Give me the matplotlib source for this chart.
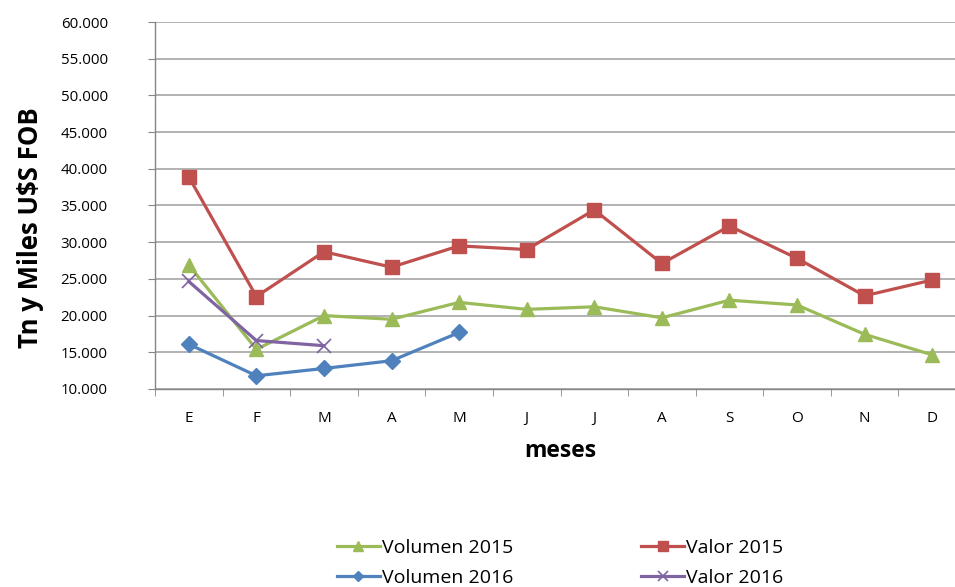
import matplotlib.pyplot as plt
from matplotlib.ticker import FuncFormatter, FixedLocator

meses = ["E", "F", "M", "A", "M", "J", "J", "A", "S", "O", "N", "D"]
volumen_2015 = [26900, 15400, 20000, 19500, 21800, 20850, 21200, 19700, 22100, 21450, 17450, 14650]
valor_2015 = [38900, 22600, 28700, 26600, 29500, 29000, 34400, 27100, 32200, 27800, 22700, 24850]
volumen_2016 = [16100, 11800, 12800, 13850, 17700]
valor_2016 = [24650, 16600, 15900]

plt.rcParams['font.family'] = ['Open Sans', 'DejaVu Sans']

W, H = 955, 587
fig = plt.figure(figsize=(W / 100, H / 100), dpi=100)
ax = fig.add_axes([155 / W, (H - 389) / H, 811 / W, 367 / H])

x_all = list(range(len(meses)))
grid_c = "#A6A6A6"

l_vol15, = ax.plot(x_all, volumen_2015, color="#9BBB59", lw=2.3, marker="^", ms=10,
                   label="Volumen 2015", zorder=3)
l_val15, = ax.plot(x_all, valor_2015, color="#C0504D", lw=2.3, marker="s", ms=10,
                   label="Valor 2015", zorder=3)
l_vol16, = ax.plot(x_all[:len(volumen_2016)], volumen_2016, color="#4F81BD", lw=2.3,
                   marker="D", ms=8, label="Volumen 2016", zorder=4)
l_val16, = ax.plot(x_all[:len(valor_2016)], valor_2016, color="#8064A2", lw=2.3,
                   marker="x", ms=10, mew=1.2, label="Valor 2016", zorder=5)

ax.set_xlim(-0.5, len(meses) - 0.5)
ax.set_ylim(10000, 60000)
ax.set_yticks(range(10000, 60001, 5000))
ax.yaxis.set_major_formatter(FuncFormatter(lambda v, p: f"{int(v):,}".replace(",", ".")))
ax.set_xticks(x_all)
ax.set_xticklabels(meses)
ax.xaxis.set_minor_locator(FixedLocator([i - 0.5 for i in range(len(meses) + 1)]))

ax.grid(axis="y", color=grid_c, lw=1.2, zorder=0)
for side in ["top", "right"]:
    ax.spines[side].set_visible(False)
for side in ["left", "bottom"]:
    ax.spines[side].set_color("#868686")
    ax.spines[side].set_linewidth(1)

ax.tick_params(axis="x", which="major", length=0, pad=16, labelsize=11)
ax.tick_params(axis="x", which="minor", length=5, color="#868686", direction="out")
ax.tick_params(axis="y", length=5, color="#868686", pad=29, labelsize=10.8)

ax.set_xlabel("meses", fontsize=16.5, fontweight="bold", labelpad=9)
fig.text(30 / W, 1 - 228 / H, "Tn y Miles U$S FOB", rotation=90, fontsize=18.5,
         fontweight="bold", ha="center", va="center")

fig.legend([l_vol15, l_vol16, l_val15, l_val16],
           ["Volumen 2015", "Volumen 2016", "Valor 2015", "Valor 2016"],
           loc="center", bbox_to_anchor=(560 / W, 1 - 563 / H), ncol=2, frameon=False,
           fontsize=14, columnspacing=6.6, handlelength=2.2, handletextpad=0.1,
           labelspacing=0.6, markerscale=0.7)

fig.savefig("out.png", dpi=100)
